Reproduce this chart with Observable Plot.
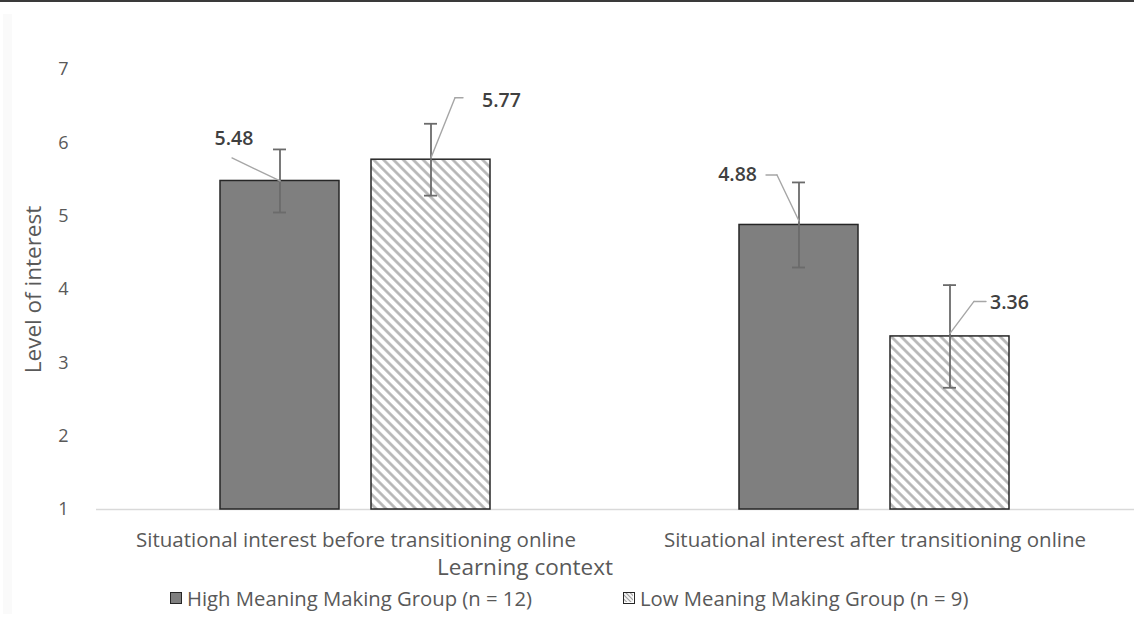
<!DOCTYPE html>
<html>
<head>
<meta charset="utf-8">
<script src="https://cdn.jsdelivr.net/npm/d3@7"></script>
<script src="https://cdn.jsdelivr.net/npm/@observablehq/plot@0.6"></script>
<style>
  html, body { margin: 0; padding: 0; background: #fff; }
  #wrap { position: relative; width: 1134px; height: 619px; overflow: hidden; font-family: "Open Sans", sans-serif; color: #595959; }
  #topline { position: absolute; left: 0; top: 0; width: 1134px; height: 2px; background: #3a3a3a; }
  #leftshade { position: absolute; left: 3px; top: 14px; width: 9px; height: 600px; background: #fafafa; }
  #chart { position: absolute; left: 0; top: 0; }
  #xtitle { position: absolute; top: 552px; left: 437px; font-size: 22.5px; line-height: 30px; white-space: nowrap; }
  .leg { position: absolute; top: 583px; height: 30px; font-size: 20.3px; white-space: nowrap; display: flex; align-items: center; }
  .sw { width: 12px; height: 12px; border: 1.5px solid #262626; margin-right: 5px; box-sizing: border-box; overflow: hidden; }
</style>
</head>
<body>
<svg width="0" height="0" style="position:absolute">
  <defs>
    <pattern id="hatch" patternUnits="userSpaceOnUse" width="7" height="7" patternTransform="rotate(-45)">
      <rect width="7" height="7" fill="#ffffff"></rect>
      <line x1="3.5" y1="-1" x2="3.5" y2="8" stroke="#b3b3b3" stroke-width="2.6"></line>
    </pattern>
    <pattern id="hatchSmall" patternUnits="userSpaceOnUse" width="3" height="3" patternTransform="rotate(-45)">
      <rect width="3" height="3" fill="#ffffff"></rect>
      <line x1="1.5" y1="-1" x2="1.5" y2="4" stroke="#9a9a9a" stroke-width="1.2"></line>
    </pattern>
  </defs>
</svg>
<div id="wrap">
  <div id="leftshade"></div>
  <div id="chart"></div>
  <div id="topline"></div>
  <div id="xtitle"></div>
  <div id="legend"></div>
</div>
<script>
// ---- data ----
const categories = [
  "Situational interest before transitioning online",
  "Situational interest after transitioning online"
];
const groups = [
  "High Meaning Making Group (n = 12)",
  "Low Meaning Making Group (n = 9)"
];
const highMeans = [5.48, 4.88];
const lowMeans = [5.77, 3.36];
const highErr = [0.43, 0.58];
const lowErr = [0.49, 0.70];
const yTicks = [1, 2, 3, 4, 5, 6, 7];
const yLabel = "Level of interest";
const xLabel = "Learning context";

// ---- table built from arrays ----
const rows = [];
categories.forEach((c, i) => {
  rows.push({cat: c, group: groups[0], value: highMeans[i], err: highErr[i], label: highMeans[i].toFixed(2)});
  rows.push({cat: c, group: groups[1], value: lowMeans[i], err: lowErr[i], label: lowMeans[i].toFixed(2)});
});

// ---- label / leader styling (pixel offsets from bar-top centre), in row order ----
const labelStyle = [
  {dx: -46, dy: -42, anchor: "middle", path: [[0, 0], [-48, -23]]},
  {dx: 51, dy: -59, anchor: "start", path: [[0, -2], [24, -62], [32, -62]]},
  {dx: -42, dy: -50, anchor: "end", path: [[0, -4], [-22, -50], [-33, -50]]},
  {dx: 40, dy: -34, anchor: "start", path: [[0, -3], [24, -35], [36, -35]]}
];

const lineShape = {draw(context, l) { context.moveTo(0, 0); context.lineTo(0, -l); }};

const leaderMarks = [];
const labelMarks = [];
rows.forEach((r, i) => {
  const st = labelStyle[i];
  for (let k = 0; k < st.path.length - 1; k++) {
    const [x0, y0] = st.path[k], [x1, y1] = st.path[k + 1];
    const len = Math.hypot(x1 - x0, y1 - y0);
    const rot = Math.atan2(x1 - x0, -(y1 - y0)) * 180 / Math.PI;
    leaderMarks.push(Plot.vector([r], {
      fx: "cat", x: "group", y: "value", anchor: "start",
      length: len, rotate: rot, shape: lineShape,
      dx: x0, dy: y0, stroke: "#a6a6a6", strokeWidth: 1.4
    }));
  }
  labelMarks.push(Plot.text([r], {
    fx: "cat", x: "group", y: "value", text: "label",
    dx: st.dx, dy: st.dy, textAnchor: st.anchor,
    fill: "#404040", fontSize: 19.5, fontWeight: 600
  }));
});

const chart = Plot.plot({
  width: 1134,
  height: 552,
  marginLeft: 95,
  marginRight: 0,
  marginTop: 69,
  marginBottom: 43,
  style: {fontFamily: "Open Sans, sans-serif", fontSize: "16px", color: "#595959", background: "transparent"},
  fx: {domain: categories, padding: 0},
  x: {domain: groups, paddingInner: 0.2105, paddingOuter: 0.814, axis: null},
  y: {domain: [1, 7]},
  color: {type: "ordinal", domain: groups, range: ["#7f7f7f", "url(#hatch)"]},
  marks: [
    Plot.ruleY([1], {stroke: "#d9d9d9", strokeWidth: 1.3}),
    Plot.barY(rows, {fx: "cat", x: "group", y1: 1, y2: "value", fill: "group", stroke: "#262626", strokeWidth: 1.5}),
    Plot.ruleX(rows, {fx: "cat", x: "group", y1: d => d.value - d.err, y2: d => d.value + d.err, stroke: "#6b6b6b", strokeWidth: 1.8}),
    Plot.tickY(rows, {fx: "cat", x: "group", y: d => d.value + d.err, stroke: "#6b6b6b", strokeWidth: 1.8, insetLeft: 53, insetRight: 53}),
    Plot.tickY(rows, {fx: "cat", x: "group", y: d => d.value - d.err, stroke: "#6b6b6b", strokeWidth: 1.8, insetLeft: 53, insetRight: 53}),
    ...leaderMarks,
    ...labelMarks,
    Plot.axisY({ticks: yTicks, tickFormat: "d", tickSize: 0, tickPadding: 28, fontSize: 18, label: yLabel, labelAnchor: "center", labelOffset: 71, labelArrow: "none"}),
    Plot.axisFx({anchor: "bottom", tickSize: 0, tickPadding: 23, fontSize: 20.5, label: null})
  ]
});
document.getElementById("chart").appendChild(chart);

// y axis title font size
chart.querySelectorAll("text").forEach(t => {
  if (t.textContent === yLabel) { t.style.fontSize = "22.5px"; }
});

document.getElementById("xtitle").textContent = xLabel;

const legend = document.getElementById("legend");
const legendLeft = [170, 623];
groups.forEach((g, i) => {
  const item = document.createElement("div");
  item.className = "leg";
  item.style.left = legendLeft[i] + "px";
  const sw = document.createElement("div");
  sw.className = "sw";
  if (i === 0) sw.style.background = "#7f7f7f";
  else sw.innerHTML = '<svg width="9" height="9" style="display:block"><rect width="9" height="9" fill="url(#hatchSmall)"></rect></svg>';
  const tx = document.createElement("span");
  tx.textContent = g;
  item.appendChild(sw);
  item.appendChild(tx);
  legend.appendChild(item);
});
</script>
</body>
</html>
